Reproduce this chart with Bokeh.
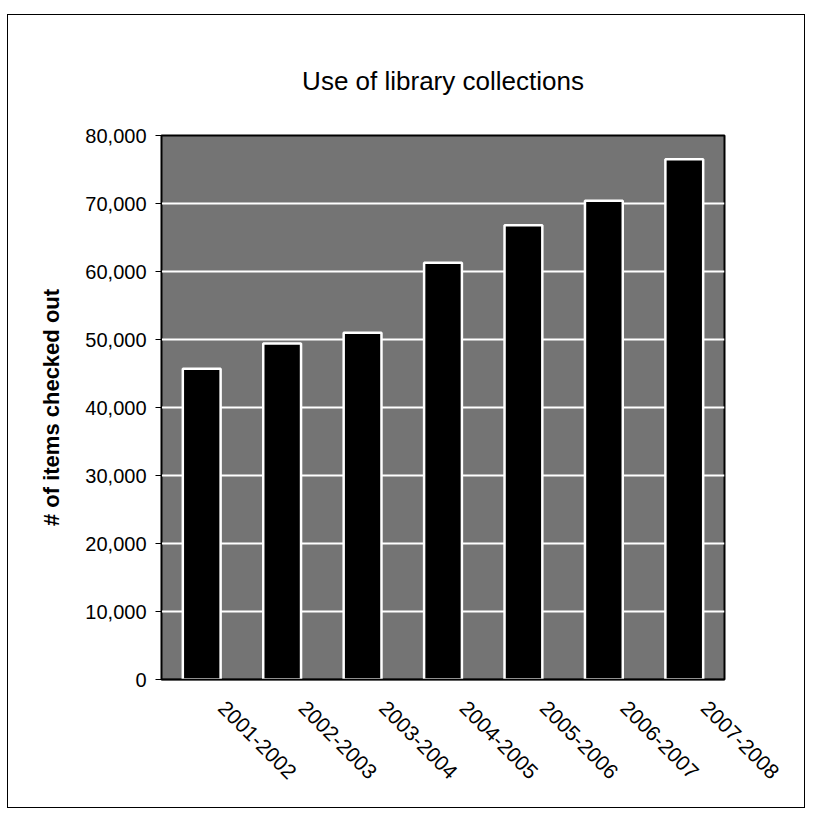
import math
from bokeh.plotting import figure
from bokeh.models import NumeralTickFormatter, FixedTicker, Range1d
from bokeh.embed import file_html
from bokeh.resources import INLINE

years = ["2001-2002", "2002-2003", "2003-2004", "2004-2005",
         "2005-2006", "2006-2007", "2007-2008"]
items_checked_out = [45700, 49400, 51000, 61300, 66800, 70400, 76500]
y_ticks = [0, 10000, 20000, 30000, 40000, 50000, 60000, 70000, 80000]

FONT = "Liberation Sans"

n = len(years)
bar_pos = [i + 0.5 for i in range(n)]          # one slot per season
label_pos = [i + 0.75 for i in range(n)]       # names start right of bar centre

p = figure(x_range=Range1d(0, n), y_range=Range1d(0, 80000),
           width=798, height=794,
           output_backend="svg", toolbar_location=None,
           min_border_left=153, min_border_right=82,
           min_border_top=120, min_border_bottom=130,
           title="Use of library collections")
p.margin = (14, 0, 0, 7)
p.styles = {"border": "1.5px solid black", "box-sizing": "border-box"}

p.background_fill_color = "#747474"
p.border_fill_color = "white"
p.outline_line_color = "black"
p.outline_line_width = 2

p.vbar(x=bar_pos, top=items_checked_out, width=0.47,
       fill_color="black", line_color="white", line_width=2.5)

p.title.text_font = FONT
p.title.text_font_size = "26px"
p.title.text_font_style = "normal"
p.title.text_color = "black"
p.title.align = "center"
p.title.standoff = 80

p.xgrid.grid_line_color = None
p.ygrid.grid_line_color = "white"
p.ygrid.grid_line_width = 2
p.ygrid.ticker = FixedTicker(ticks=y_ticks)

p.yaxis.ticker = FixedTicker(ticks=y_ticks)
p.yaxis.formatter = NumeralTickFormatter(format="0,0")
p.yaxis.axis_label = "# of items checked out"
p.yaxis.axis_label_text_font = FONT
p.yaxis.axis_label_text_font_size = "22px"
p.yaxis.axis_label_text_font_style = "bold"
p.yaxis.axis_label_text_color = "black"
p.yaxis.axis_label_standoff = 18
p.yaxis.major_label_text_font = FONT
p.yaxis.major_label_text_font_size = "20px"
p.yaxis.major_label_text_color = "black"
p.yaxis.major_label_standoff = 9
p.yaxis.major_tick_out = 6
p.yaxis.major_tick_in = 0
p.yaxis.minor_tick_line_color = None
p.yaxis.axis_line_color = "black"
p.yaxis.major_tick_line_color = "black"

p.xaxis.ticker = FixedTicker(ticks=label_pos)
p.xaxis.major_label_overrides = {pos: yr for pos, yr in zip(label_pos, years)}
p.xaxis.major_label_orientation = -math.pi / 4
p.xaxis.major_label_text_font = FONT
p.xaxis.major_label_text_font_size = "21px"
p.xaxis.major_label_text_color = "black"
p.xaxis.major_label_standoff = 19
p.xaxis.major_tick_line_color = None
p.xaxis.minor_tick_line_color = None
p.xaxis.axis_line_color = "black"
p.xaxis.axis_line_width = 1.5

open("out.html", "w").write(file_html(p, INLINE))
